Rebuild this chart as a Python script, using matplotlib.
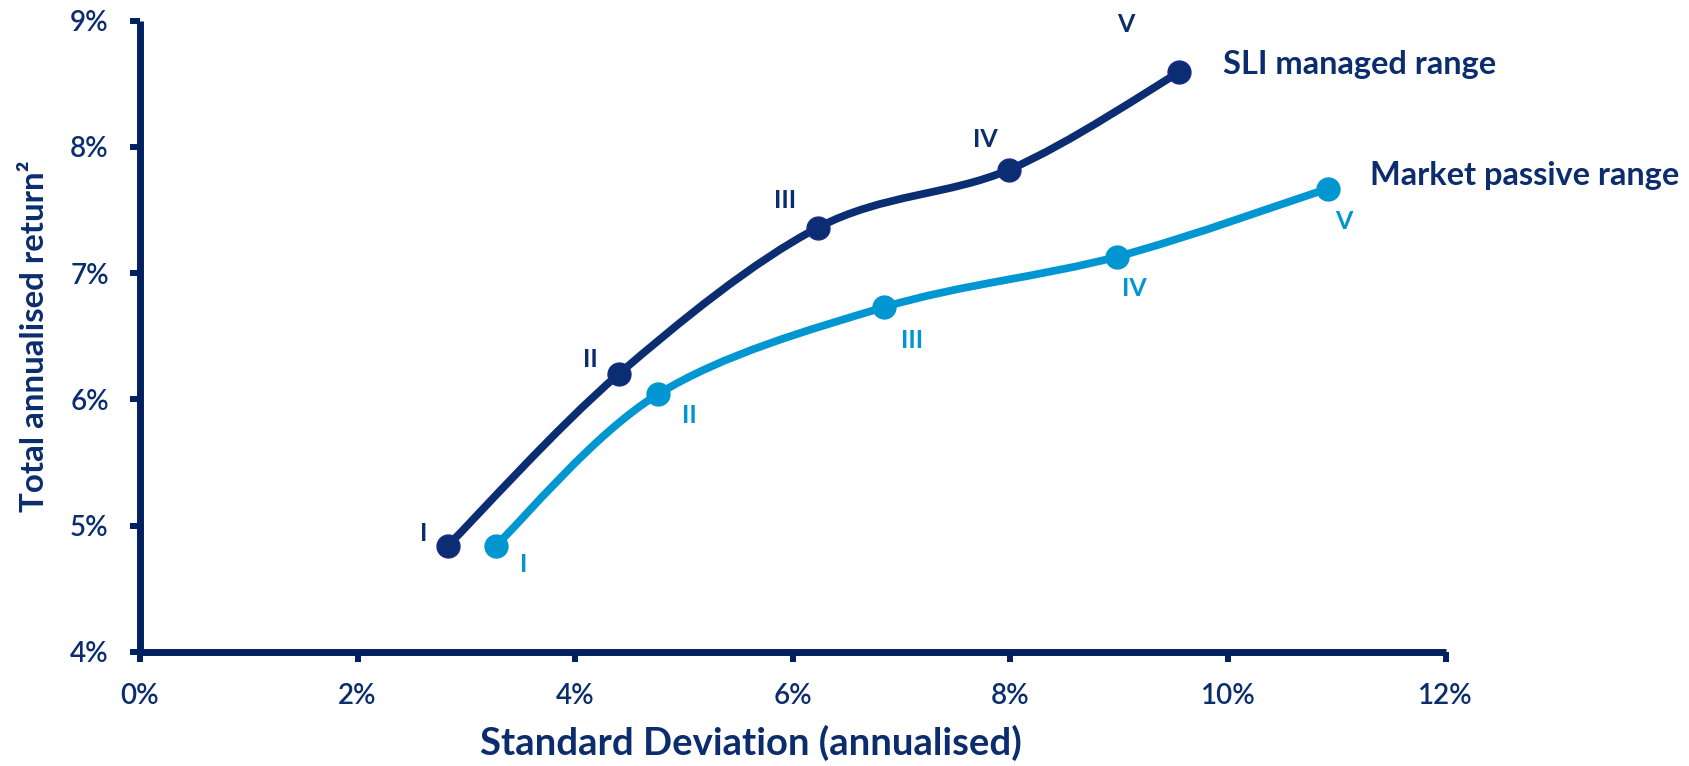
import numpy as np
import matplotlib
matplotlib.use('Agg')
import matplotlib.pyplot as plt
from matplotlib.path import Path
from matplotlib.patches import PathPatch

# ---- data ----
risk_levels = ['I', 'II', 'III', 'IV', 'V']
sli_sd = [2.83, 4.40, 6.23, 7.99, 9.55]
sli_ret = [4.84, 6.20, 7.36, 7.82, 8.59]
mkt_sd = [3.27, 4.76, 6.84, 8.98, 10.92]
mkt_ret = [4.84, 6.04, 6.73, 7.13, 7.67]
x_ticks = [0, 2, 4, 6, 8, 10, 12]
y_ticks = [4, 5, 6, 7, 8, 9]
series_names = ['SLI managed range', 'Market passive range']

DARK = '#0B2D72'
AXIS = '#002060'
LIGHT = '#0096D1'
TEXT = '#0B2D6E'
FONT = 'Lato'

plt.rcParams['font.family'] = [FONT, 'DejaVu Sans']

fig = plt.figure(figsize=(16.89, 7.66), dpi=100)
ax = fig.add_axes([140 / 1689, 114.3 / 766, 1305.6 / 1689, 631 / 766])


def smooth_path(xs, ys):
    pts = np.column_stack([xs, ys]).astype(float)
    n = len(pts)
    verts = [pts[0]]
    codes = [Path.MOVETO]
    for i in range(n - 1):
        p0 = pts[i - 1] if i > 0 else pts[i]
        p1 = pts[i]
        p2 = pts[i + 1]
        p3 = pts[i + 2] if i + 2 < n else pts[i + 1]
        c1 = p1 + (p2 - p0) / 6.0
        c2 = p2 - (p3 - p1) / 6.0
        verts += [c1, c2, p2]
        codes += [Path.CURVE4] * 3
    return Path(verts, codes)


for xs, ys, col, mec in [(mkt_sd, mkt_ret, LIGHT, LIGHT), (sli_sd, sli_ret, DARK, '#1A2A8C')]:
    patch = PathPatch(smooth_path(xs, ys), facecolor='none', edgecolor=col,
                      lw=5.6, capstyle='round', joinstyle='round', zorder=3)
    ax.add_patch(patch)
    ax.plot(xs, ys, linestyle='none', marker='o', ms=16.5, mfc=col, mec=mec,
            mew=1.0, zorder=4, clip_on=False)

# point labels
sli_off = [(-24, 12), (-28, 15), (-33, 27), (-24, 30), (-53, 48)]
mkt_off = [(28, -19), (31, -21), (28, -33), (17, -32), (16, -33)]
for lab, x, y, off in zip(risk_levels, sli_sd, sli_ret, sli_off):
    ax.annotate(lab, (x, y), xytext=off, textcoords='offset pixels',
                ha='center', va='center', color=TEXT, fontsize=18,
                fontweight='bold', zorder=5)
for lab, x, y, off in zip(risk_levels, mkt_sd, mkt_ret, mkt_off):
    ax.annotate(lab, (x, y), xytext=off, textcoords='offset pixels',
                ha='center', va='center', color=LIGHT, fontsize=18,
                fontweight='bold', zorder=5)

# series names
ax.annotate(series_names[0], (sli_sd[-1], sli_ret[-1]), xytext=(44, 8),
            textcoords='offset pixels', ha='left', va='center', color=TEXT,
            fontsize=23.4, fontweight='bold', annotation_clip=False)
ax.annotate(series_names[1], (mkt_sd[-1], mkt_ret[-1]), xytext=(42, 13),
            textcoords='offset pixels', ha='left', va='center', color=TEXT,
            fontsize=23.4, fontweight='bold', annotation_clip=False)

ax.set_xlim(0, 12)
ax.set_ylim(4, 9)
ax.set_xticks(x_ticks)
ax.set_yticks(y_ticks)
ax.set_xticklabels([f'{v}%' for v in x_ticks])
ax.set_yticklabels([f'{v}%' for v in y_ticks])

for s in ['top', 'right']:
    ax.spines[s].set_visible(False)
for s in ['left', 'bottom']:
    ax.spines[s].set_color(AXIS)
    ax.spines[s].set_linewidth(5.0)
    ax.spines[s].set_capstyle('butt')

ax.tick_params(axis='both', direction='out', length=7.5, width=4.3,
               color=AXIS, labelcolor=TEXT, labelsize=20, pad=15)
for lbl in ax.get_xticklabels() + ax.get_yticklabels():
    lbl.set_fontweight('semibold')

ax.set_ylabel('Total annualised return\u00b2', fontsize=23.8, fontweight='bold',
              color=TEXT, va='center')
ax.yaxis.set_label_coords(-0.081, 0.5)
ax.set_xlabel('Standard Deviation (annualised)', fontsize=27.5, fontweight='bold',
              color=TEXT, va='center')
ax.xaxis.set_label_coords(0.468, -0.145)

fig.savefig('out.png', dpi=100)
